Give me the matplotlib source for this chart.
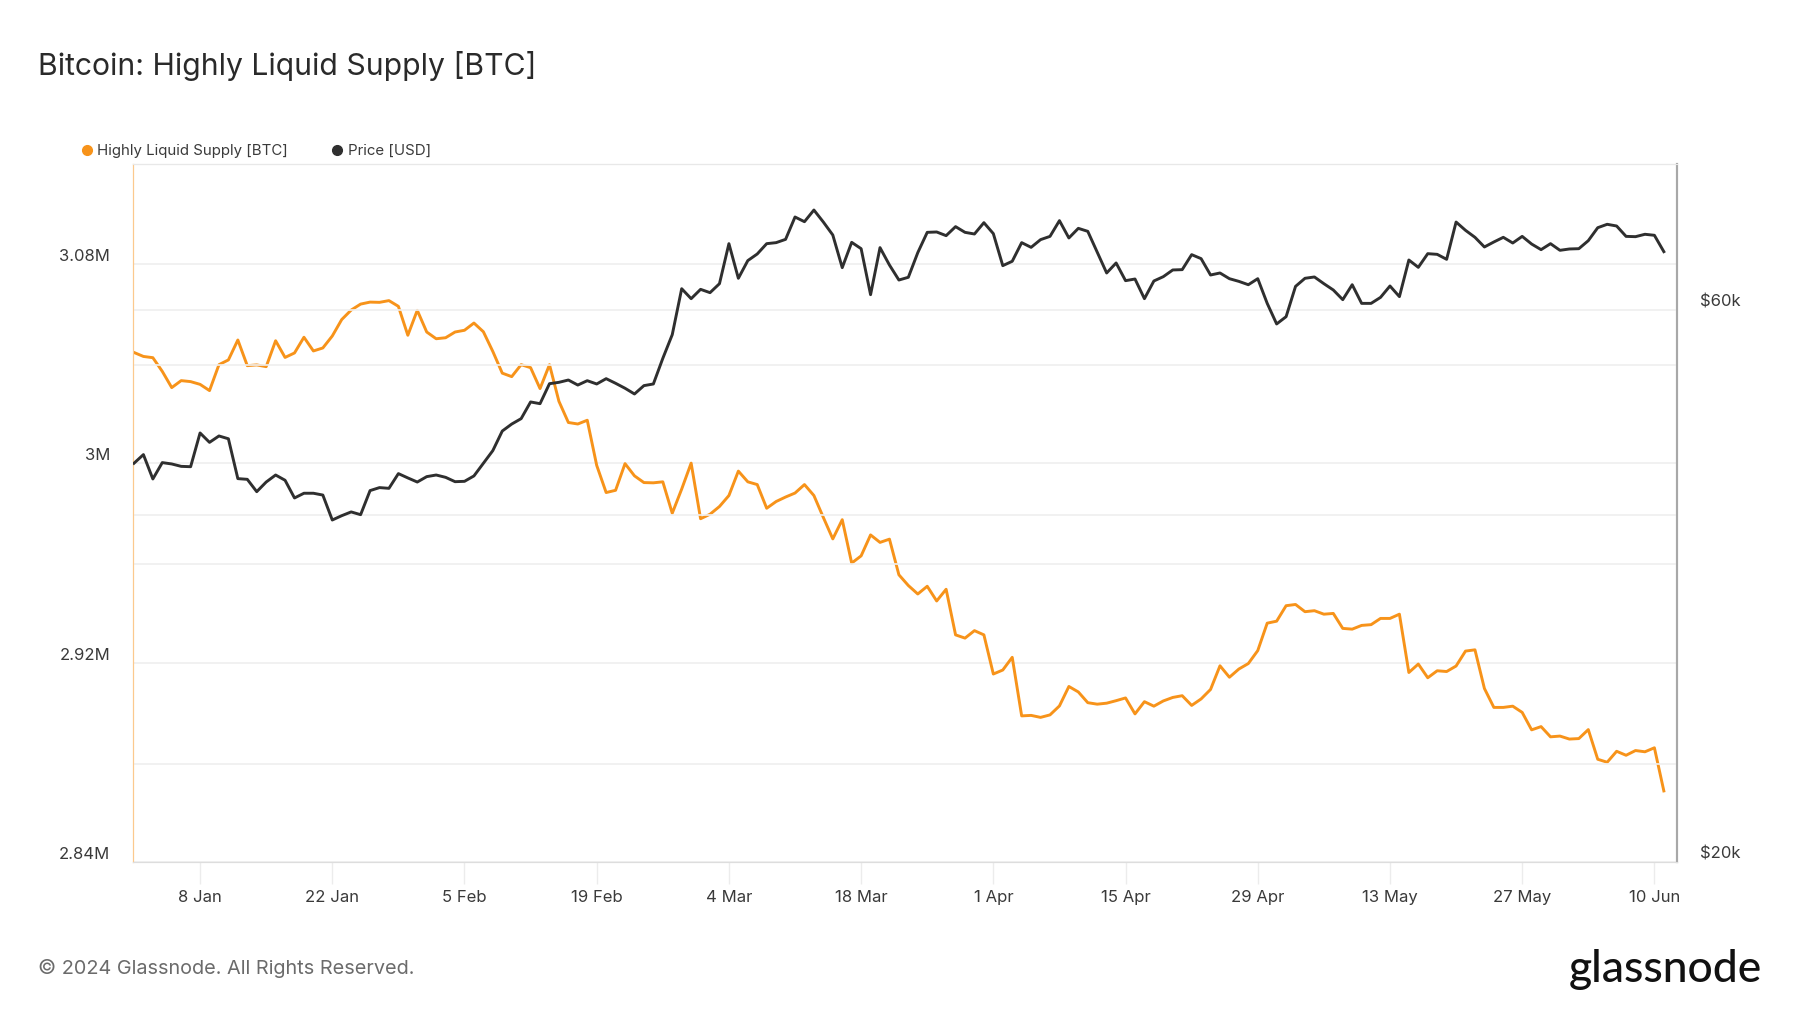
import numpy as np
import pandas as pd
import matplotlib
matplotlib.use("Agg")
import matplotlib.pyplot as plt
import matplotlib.dates as mdates
from matplotlib.lines import Line2D

plt.rcParams['font.family'] = ['Inter', 'DejaVu Sans']

# daily values, 1 Jan 2024 .. 11 Jun 2024
dates = pd.date_range("2024-01-01", periods=163, freq="D")

# highly liquid supply, thousand BTC
supply_k = [
    3044.4, 3042.8, 3042.3, 3036.8, 3030.3, 3033.1, 3032.7, 3031.6, 3029.1, 3039.5,
    3041.4, 3049.4, 3039.1, 3039.4, 3038.7, 3049.1, 3042.4, 3044.2, 3050.5, 3045.0,
    3046.2, 3051.0, 3057.6, 3061.4, 3063.8, 3064.6, 3064.5, 3065.2, 3062.9, 3051.3,
    3061.3, 3052.6, 3049.9, 3050.3, 3052.6, 3053.3, 3056.2, 3052.7, 3044.8, 3036.1,
    3034.7, 3039.5, 3038.3, 3029.9, 3039.5, 3024.8, 3016.3, 3015.7, 3017.2, 2999.1,
    2988.2, 2989.1, 2999.8, 2994.9, 2992.2, 2992.1, 2992.5, 2979.9, 2989.6, 3000.0,
    2977.7, 2979.5, 2982.6, 2987.0, 2996.8, 2992.5, 2991.4, 2981.9, 2984.6, 2986.4,
    2988.0, 2991.4, 2987.0, 2978.2, 2969.6, 2977.3, 2959.9, 2962.8, 2971.2, 2968.2,
    2969.5, 2955.2, 2950.9, 2947.5, 2950.6, 2944.7, 2949.4, 2931.1, 2929.8, 2932.8,
    2931.1, 2915.4, 2917.0, 2922.1, 2898.6, 2898.8, 2898.0, 2899.0, 2902.6, 2910.4,
    2908.2, 2903.9, 2903.3, 2903.7, 2904.7, 2905.8, 2899.4, 2904.3, 2902.5, 2904.6,
    2906.0, 2906.7, 2902.8, 2905.4, 2909.2, 2918.7, 2914.1, 2917.4, 2919.6, 2924.8,
    2935.8, 2936.6, 2942.8, 2943.3, 2940.4, 2940.8, 2939.4, 2939.7, 2933.7, 2933.4,
    2934.9, 2935.2, 2937.7, 2937.7, 2939.4, 2916.0, 2919.4, 2913.9, 2916.7, 2916.4,
    2918.6, 2924.6, 2925.1, 2909.6, 2902.0, 2902.0, 2902.5, 2900.0, 2893.0, 2894.3,
    2890.2, 2890.5, 2889.3, 2889.5, 2893.1, 2881.2, 2880.0, 2884.4, 2882.8, 2884.7,
    2884.2, 2885.8, 2868.5,
]

# BTC price, thousand USD
price_k = [
    44.22, 44.99, 42.86, 44.28, 44.16, 43.95, 43.92, 46.97, 46.10, 46.69,
    46.43, 42.89, 42.83, 41.79, 42.60, 43.20, 42.75, 41.27, 41.66, 41.66,
    41.51, 39.50, 39.84, 40.14, 39.92, 41.88, 42.13, 42.07, 43.32, 42.95,
    42.60, 43.06, 43.20, 43.00, 42.63, 42.66, 43.12, 44.22, 45.35, 47.15,
    47.81, 48.33, 49.96, 49.79, 51.81, 51.95, 52.19, 51.67, 52.12, 51.78,
    52.33, 51.85, 51.34, 50.76, 51.61, 51.78, 54.49, 57.12, 62.59, 61.36,
    62.51, 62.10, 63.22, 68.46, 63.90, 66.19, 67.07, 68.46, 68.60, 69.05,
    72.19, 71.52, 73.20, 71.47, 69.65, 65.27, 68.64, 67.78, 61.85, 67.92,
    65.61, 63.68, 64.03, 67.25, 70.02, 70.07, 69.56, 70.82, 70.02, 69.79,
    71.38, 69.84, 65.53, 66.10, 68.60, 67.96, 69.01, 69.46, 71.67, 69.24,
    70.58, 70.16, 67.33, 64.58, 65.88, 63.60, 63.81, 61.36, 63.56, 64.11,
    64.97, 65.01, 66.98, 66.45, 64.32, 64.58, 63.85, 63.51, 63.09, 63.85,
    60.79, 58.35, 59.20, 62.88, 63.90, 64.07, 63.22, 62.43, 61.24, 63.09,
    60.79, 60.79, 61.52, 62.93, 61.61, 66.27, 65.31, 67.11, 67.02, 66.36,
    71.47, 70.30, 69.33, 68.01, 68.69, 69.33, 68.55, 69.46, 68.41, 67.65,
    68.46, 67.56, 67.74, 67.78, 68.87, 70.67, 71.15, 70.91, 69.46, 69.42,
    69.75, 69.61, 67.38,
]

supply = np.array(supply_k) * 1e3
price = np.array(price_k) * 1e3

supply_ticks = [2.84e6, 2.92e6, 3.0e6, 3.08e6]
supply_labels = ["2.84M", "2.92M", "3M", "3.08M"]
price_ticks = [20e3, 60e3]
price_labels = ["$20k", "$60k"]
price_grid = [24.3e3, 36.2e3, 39.9e3, 53.8e3]

ORANGE = "#f7931a"
DARK = "#2f2f2f"
TXT = "#3a3a3a"
GRID = "#efefef"

fig = plt.figure(figsize=(18, 10.13), dpi=100)
ax = fig.add_axes([0.0739, 0.1491, 0.8578, 0.6890])
ax2 = ax.twinx()

ax.plot(dates, supply, color=ORANGE, lw=2.1, zorder=3)
ax2.plot(dates, price, color=DARK, lw=2.1, zorder=3)

ax.set_ylim(2.84e6, 3.12e6)
ax.set_yticks(supply_ticks)
ax.set_yticklabels(supply_labels, va="bottom")
ax2.set_yscale("log")
ax2.set_ylim(20e3, 20e3 * np.exp(698 / 502.5))
ax2.set_yticks(price_ticks)
ax2.set_yticklabels(price_labels, va="bottom")
ax2.set_yticks(price_grid, minor=True)
ax2.yaxis.set_minor_formatter(plt.NullFormatter())

t0 = dates[0]
ax.set_xlim(t0 - pd.Timedelta(days=0.1), t0 + pd.Timedelta(days=163.4))
ax.set_xticks(pd.date_range("2024-01-08", periods=12, freq="14D"))
ax.xaxis.set_major_formatter(mdates.DateFormatter("%-d %b"))

ax.grid(axis="y", color=GRID, lw=1.2, zorder=0)
ax2.grid(axis="y", which="both", color=GRID, lw=1.2, zorder=0)
ax.set_axisbelow(True)
ax2.set_axisbelow(True)

ax.tick_params(axis="y", length=0, pad=16.5, labelsize=12, labelcolor=TXT)
ax2.tick_params(axis="y", which="both", length=0, pad=16.5, labelsize=12, labelcolor=TXT)
ax.tick_params(axis="x", length=16, width=1, color="#ececec", pad=4.5,
               labelsize=12, labelcolor=TXT)

for a in (ax, ax2):
    a.spines["top"].set_color("#e8e8e8")
    a.spines["bottom"].set_color("#dddddd")
    a.spines["left"].set_color("#fcc98e")
    a.spines["right"].set_color("#a8a8a8")
    a.spines["right"].set_linewidth(1.5)

fig.text(0.021, 1 - 66 / 1013, "Bitcoin: Highly Liquid Supply [BTC]",
         fontsize=21.7, color="#2a2a2a", va="center", ha="left")

handles = [Line2D([], [], marker="o", ls="None", color=ORANGE, markersize=7),
           Line2D([], [], marker="o", ls="None", color=DARK, markersize=7)]
fig.legend(handles, ["Highly Liquid Supply [BTC]", "Price [USD]"],
           loc="center left", bbox_to_anchor=(0.041, 1 - 151 / 1013),
           ncol=2, frameon=False, fontsize=10.8, handlelength=0.7,
           handletextpad=0.35, columnspacing=2.93, borderpad=0, labelcolor=TXT)

fig.text(0.021, 1 - 968 / 1013, "\u00a9 2024 Glassnode. All Rights Reserved.",
         fontsize=14.3, color="#6b6b6b", va="center", ha="left")
fig.text(0.979, 1 - 969 / 1013, "glassnode", fontsize=32, color="#111111",
         va="center", ha="right", family=["Lato", "DejaVu Sans"], weight="medium")

fig.savefig("out.png", dpi=100, facecolor="white")
